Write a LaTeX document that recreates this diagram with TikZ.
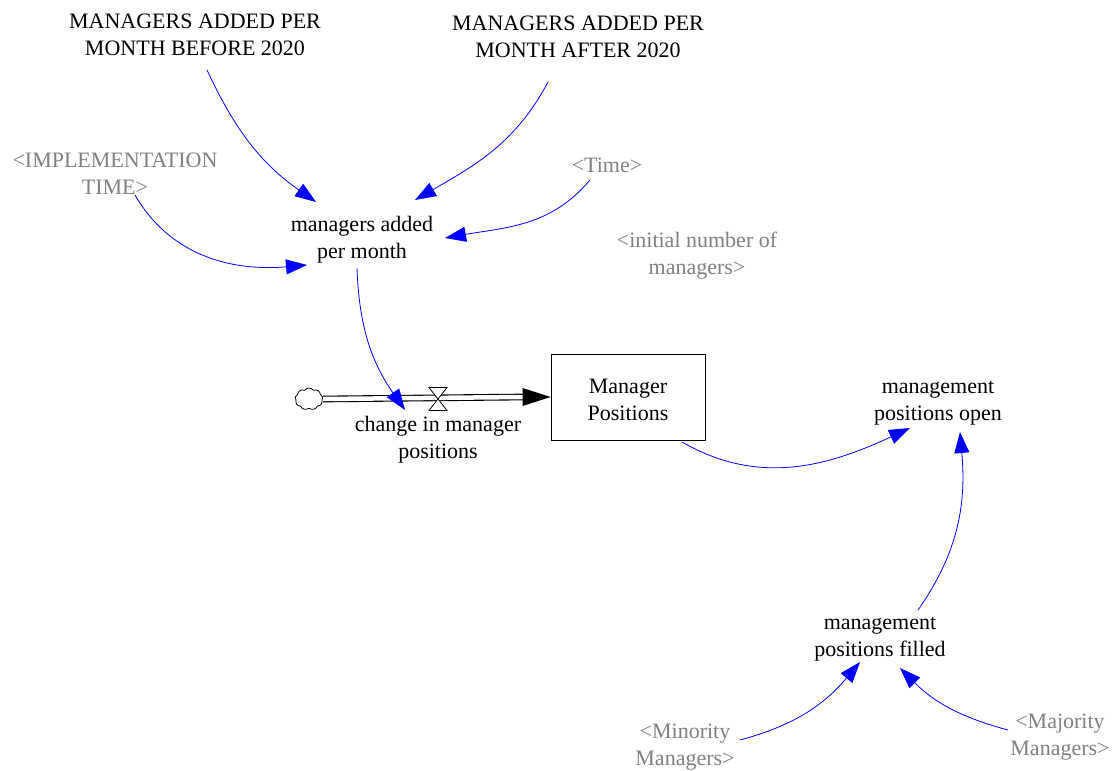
\documentclass[tikz,border=0pt]{standalone}
\usepackage{fontspec}
\setmainfont{Liberation Serif}
\usetikzlibrary{arrows.meta,shapes.symbols,calc}
\definecolor{shadowgray}{RGB}{128,128,128}
\definecolor{linkblue}{RGB}{0,0,255}
\tikzset{
  txt/.style={align=center, font=\fontsize{22}{27}\selectfont, inner sep=0pt},
  shadow/.style={txt, text=shadowgray},
  link/.style={draw=linkblue, line width=0.8pt, -{Triangle[length=21pt,width=15pt]}, fill=none},
  pipe/.style={double, double distance=4.5pt, line width=1.1pt},
  stockbox/.style={draw, line width=0.8pt, minimum width=154pt, minimum height=86pt, inner sep=0pt},
}
\begin{document}
\begin{tikzpicture}[x=1pt,y=1pt]
\useasboundingbox (0,0) rectangle (1114,771);
% nodes
\node[txt] (before) at (195,736) {MANAGERS ADDED PER\\MONTH BEFORE 2020};
\node[txt] (after) at (578,734) {MANAGERS ADDED PER\\MONTH AFTER 2020};
\node[shadow] (impl) at (115,597) {<IMPLEMENTATION\\TIME>};
\node[shadow] (time) at (607,606) {<Time>};
\node[txt] (mapm) at (362,531) {managers added\\per month};
\node[shadow] (init) at (697,515) {<initial number of\\managers>};
\node[stockbox, label={[txt, yshift=-3pt]center:Manager\\Positions}] (box) at (628,374) {};
\node[draw, cloud, cloud puffs=9, cloud puff arc=110, aspect=1.2, minimum width=28pt, minimum height=22pt, inner sep=0pt, line width=0.8pt] (cloud) at (309,372) {};
\coordinate (valve) at (438,372);
\node[txt] (change) at (438,331) {change in manager\\positions};
\node[txt] (open) at (938,368) {management\\positions open};
\node[txt] (filled) at (880,132) {management\\positions filled};
\node[shadow] (minority) at (685,24) {<Minority\\Managers>};
\node[shadow] (majority) at (1060,34) {<Majority\\Managers>};
% flow pipe
\draw[pipe] (cloud.east) -- ([xshift=-26pt]box.west);
\fill ([xshift=-28pt,yshift=9pt]box.west) -- (box.west) -- ([xshift=-28pt,yshift=-9pt]box.west) -- cycle;
\draw[fill=white, line width=0.8pt] ($(valve)+(-9,11.5)$) -- ($(valve)+(9,11.5)$) -- ($(valve)+(-9,-11.5)$) -- ($(valve)+(9,-11.5)$) -- cycle;
% links
\draw[link] ($(before)+(12,-35)$) to[out=-65,in=145] ($(mapm)+(-46,38)$);
\draw[link] ($(after)+(-30,-45)$) to[out=-118,in=30] ($(mapm)+(53,40)$);
\draw[link] ($(time)+(-17,-15)$) to[out=-130,in=10] ($(mapm)+(83,2)$);
\draw[link] ($(impl)+(20,-21)$) to[out=-60,in=-175] ($(mapm)+(-55,-25)$);
\draw[link] ($(mapm)+(-5,-28)$) to[out=-88,in=125] ($(change)+(-33,30)$);
\draw[link] ($(box)+(54,-45)$) to[out=-30,in=-155] ($(open)+(-28,-25)$);
\draw[link] ($(filled)+(38,29)$) to[out=55,in=-85] ($(open)+(22,-29)$);
\draw[link] ($(minority)+(55,7)$) to[out=15,in=-130] ($(filled)+(-20,-23)$);
\draw[link] ($(majority)+(-52,7)$) to[out=165,in=-45] ($(filled)+(20,-29)$);
\end{tikzpicture}
\end{document}
